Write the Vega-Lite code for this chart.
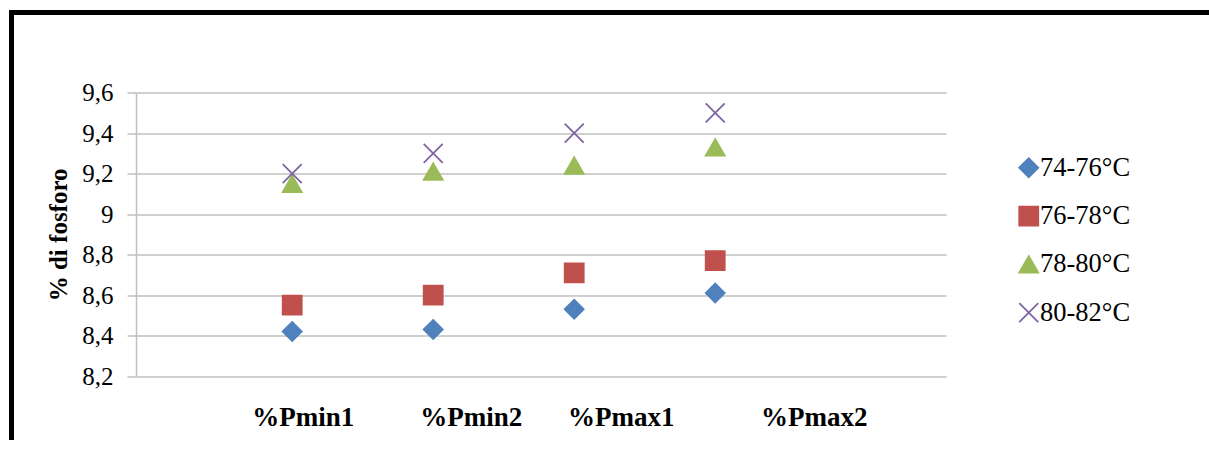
{
  "$schema": "https://vega.github.io/schema/vega-lite/v6.json",
  "width": 1197.5,
  "height": 427.5,
  "autosize": "none",
  "padding": {"left": 11.5, "top": 12.5, "right": 0, "bottom": 0},
  "background": "white",
  "config": {
    "font": "Liberation Serif",
    "view": {
      "stroke": "black",
      "strokeWidth": 5,
      "strokeCap": "square",
      "strokeDash": [1197.5, 1625, 427.5, 1]
    },
    "legend": {
      "orient": "none",
      "legendX": 1004,
      "legendY": 142,
      "title": null,
      "labelFont": "Liberation Serif",
      "labelFontSize": 26.5,
      "labelColor": "black",
      "labelOffset": -2,
      "symbolSize": 361,
      "symbolStrokeWidth": 1.8,
      "symbolOpacity": 1,
      "rowPadding": 21.3
    }
  },
  "data": {
    "values": [
      {"cat": "%Pmin1", "serie": "74-76°C", "val": 8.42},
      {"cat": "%Pmin1", "serie": "76-78°C", "val": 8.55},
      {"cat": "%Pmin1", "serie": "78-80°C", "val": 9.15},
      {"cat": "%Pmin1", "serie": "80-82°C", "val": 9.2},
      {"cat": "%Pmin2", "serie": "74-76°C", "val": 8.43},
      {"cat": "%Pmin2", "serie": "76-78°C", "val": 8.6},
      {"cat": "%Pmin2", "serie": "78-80°C", "val": 9.21},
      {"cat": "%Pmin2", "serie": "80-82°C", "val": 9.3},
      {"cat": "%Pmax1", "serie": "74-76°C", "val": 8.53},
      {"cat": "%Pmax1", "serie": "76-78°C", "val": 8.71},
      {"cat": "%Pmax1", "serie": "78-80°C", "val": 9.24},
      {"cat": "%Pmax1", "serie": "80-82°C", "val": 9.4},
      {"cat": "%Pmax2", "serie": "74-76°C", "val": 8.61},
      {"cat": "%Pmax2", "serie": "76-78°C", "val": 8.77},
      {"cat": "%Pmax2", "serie": "78-80°C", "val": 9.33},
      {"cat": "%Pmax2", "serie": "80-82°C", "val": 9.5}
    ]
  },
  "mark": {"type": "point", "filled": true, "size": 361, "strokeWidth": 1.8, "opacity": 1},
  "encoding": {
    "x": {
      "field": "cat",
      "type": "nominal",
      "sort": ["%Pmin1", "%Pmin2", "%Pmax1", "%Pmax2"],
      "scale": {"type": "band", "range": [124.5, 934.5], "paddingInner": 0, "paddingOuter": 0.8723, "align": 0.3484},
      "axis": {
        "title": null,
        "domain": false,
        "ticks": false,
        "grid": false,
        "offset": -64,
        "labelAngle": 0,
        "labelPadding": 28,
        "labelFontSize": 27,
        "labelFontWeight": "bold",
        "labelColor": "black",
        "labelOffset": {
          "condition": [
            {"test": "datum.value === '%Pmin1'", "value": 11},
            {"test": "datum.value === '%Pmin2'", "value": 38},
            {"test": "datum.value === '%Pmax1'", "value": 47}
          ],
          "value": 99
        }
      }
    },
    "y": {
      "field": "val",
      "type": "quantitative",
      "scale": {"domain": [8.2, 9.6], "range": [363.5, 80.2], "nice": false, "zero": false},
      "axis": {
        "values": [8.2, 8.4, 8.6, 8.8, 9, 9.2, 9.4, 9.6],
        "offset": -124.5,
        "labelExpr": "replace(toString(datum.value), '.', ',')",
        "labelFontSize": 25,
        "labelColor": "black",
        "labelPadding": 14,
        "domainColor": "#BFBFBF",
        "domainWidth": 1.5,
        "tickColor": "#BFBFBF",
        "tickWidth": 1.5,
        "tickSize": 9,
        "grid": true,
        "gridColor": "#BFBFBF",
        "gridWidth": 1.5,
        "title": "% di fosforo",
        "titleFontSize": 25,
        "titleFontWeight": "bold",
        "titleColor": "black",
        "titlePadding": 10
      }
    },
    "color": {
      "field": "serie",
      "type": "nominal",
      "scale": {"range": ["#4F81BD", "#C0504D", "#9BBB59", "#8064A2"]}
    },
    "stroke": {
      "field": "serie",
      "type": "nominal",
      "scale": {"range": ["#4F81BD", "#C0504D", "#9BBB59", "#8064A2"]}
    },
    "shape": {
      "field": "serie",
      "type": "nominal",
      "scale": {"range": ["diamond", "square", "triangle-up", "M-1,-1L1,1M1,-1L-1,1"]}
    }
  }
}
